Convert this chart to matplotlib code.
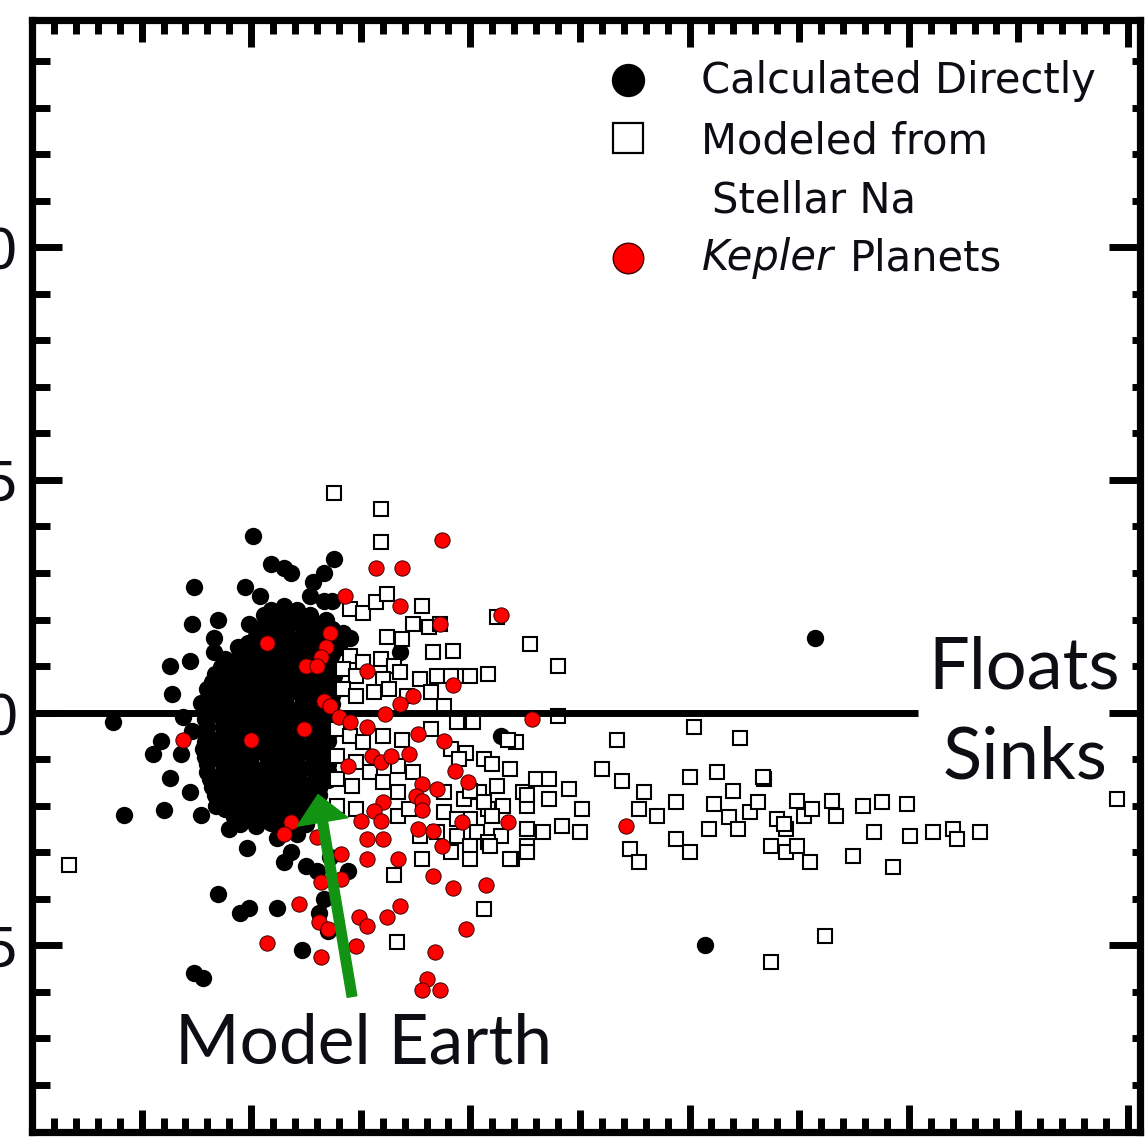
import matplotlib
matplotlib.use("Agg")
import matplotlib.pyplot as plt
from matplotlib.ticker import MultipleLocator, NullLocator

plt.rcParams['font.family'] = ['Lato', 'DejaVu Sans']

# ---------------------------------------------------------------- data
# Planets whose property was calculated directly (black discs)
calc_outer_x = [1.01, 1.09, 1.15, 1.18, 1.38, 1.33, 1.28, 0.74, 0.97, 1.04, 1.27, 1.33, 1.37, 1.15,
                0.73, 0.85, 0.99, 0.83, 1.09, 1.21, 1.25, 1.42, 1.45, 0.83, 0.94, 0.63, 0.72, 0.87, 0.94, 0.99,
                0.64, 0.77, 0.69, 0.37, 0.59, 0.55, 0.68, 0.73, 0.63, 0.72, 0.60, 0.42, 0.77, 0.84, 0.90, 1.01,
                0.98, 1.12, 1.18, 1.21, 1.25, 1.36, 1.15, 1.25, 1.30, 1.44, 1.33, 1.31, 1.35,
                0.85, 0.95, 0.99, 1.12, 1.23, 0.74, 0.78, 1.68, 2.14, 3.07, 3.57]
calc_outer_y = [0.38, 0.32, 0.31, 0.30, 0.33, 0.30, 0.28, 0.27, 0.27, 0.25, 0.25, 0.24, 0.24, 0.23,
                0.19, 0.20, 0.19, 0.16, 0.22, 0.22, 0.19, 0.17, 0.16, 0.13, 0.14, 0.10, 0.11, 0.07, 0.10, 0.11,
                0.04, 0.02, -0.01, -0.02, -0.06, -0.09, -0.09, -0.04, -0.14, -0.17, -0.21, -0.22, -0.22, -0.20, -0.25, -0.23,
                -0.29, -0.27, -0.30, -0.26, -0.24, -0.31, -0.32, -0.33, -0.34, -0.34, -0.40, -0.43, -0.47,
                -0.39, -0.43, -0.42, -0.42, -0.51, -0.56, -0.57, 0.13, -0.05, -0.50, 0.16]

# dense core of the directly calculated population
calc_core_x = [1.06, 1.13, 1.20, 1.27, 1.34,
               1.03, 1.10, 1.17, 1.24, 1.30, 1.37,
               0.985, 1.055, 1.12, 1.19, 1.26, 1.33, 1.40,
               0.88, 0.95, 1.02, 1.09, 1.15, 1.22, 1.29, 1.36,
               0.835, 0.90, 0.97, 1.04, 1.11, 1.18, 1.245, 1.31, 1.38,
               0.80, 0.87, 0.94, 1.01, 1.08, 1.145, 1.21, 1.28, 1.35,
               0.82, 0.89, 0.96, 1.03, 1.095, 1.16, 1.23, 1.30, 1.37,
               0.79, 0.86, 0.925, 0.995, 1.06, 1.13, 1.20, 1.27, 1.34, 1.40,
               0.80, 0.87, 0.935, 1.00, 1.07, 1.14, 1.21, 1.28, 1.35,
               0.78, 0.85, 0.92, 0.985, 1.055, 1.12, 1.19, 1.26, 1.33,
               0.80, 0.87, 0.935, 1.00, 1.07, 1.14, 1.21, 1.28, 1.35,
               0.81, 0.88, 0.95, 1.02, 1.09, 1.15, 1.22, 1.29, 1.35,
               0.835, 0.90, 0.97, 1.04, 1.11, 1.18, 1.245, 1.31,
               0.88, 0.95, 1.02, 1.09, 1.15, 1.22, 1.29,
               0.95, 1.02, 1.09, 1.15, 1.22]
calc_core_y = [0.21, 0.215, 0.205, 0.21, 0.20,
               0.18, 0.175, 0.185, 0.18, 0.175, 0.18,
               0.15, 0.145, 0.15, 0.155, 0.145, 0.15, 0.14,
               0.115, 0.12, 0.11, 0.115, 0.12, 0.11, 0.115, 0.11,
               0.082, 0.08, 0.085, 0.078, 0.082, 0.086, 0.08, 0.083, 0.078,
               0.05, 0.048, 0.052, 0.05, 0.046, 0.05, 0.054, 0.048, 0.05,
               0.018, 0.02, 0.016, 0.018, 0.022, 0.018, 0.015, 0.02, 0.018,
               -0.014, -0.01, -0.016, -0.012, -0.014, -0.018, -0.012, -0.014, -0.016, -0.012,
               -0.047, -0.05, -0.045, -0.048, -0.044, -0.047, -0.05, -0.046, -0.048,
               -0.079, -0.082, -0.078, -0.08, -0.076, -0.079, -0.082, -0.078, -0.08,
               -0.111, -0.108, -0.113, -0.11, -0.114, -0.111, -0.108, -0.112, -0.11,
               -0.143, -0.146, -0.141, -0.144, -0.14, -0.143, -0.146, -0.142, -0.144,
               -0.176, -0.173, -0.178, -0.175, -0.179, -0.176, -0.173, -0.177,
               -0.208, -0.205, -0.21, -0.207, -0.211, -0.208, -0.205,
               -0.24, -0.243, -0.238, -0.241, -0.239]

# further core members lying between the rows above
calc_fill_x = [1.07, 1.14, 1.21, 1.28, 1.34,
               1.02, 1.09, 1.16, 1.23, 1.30, 1.37,
               0.95, 1.02, 1.09, 1.16, 1.23, 1.30, 1.37,
               0.86, 0.93, 1.00, 1.07, 1.14, 1.21, 1.28, 1.35,
               0.82, 0.89, 0.96, 1.03, 1.10, 1.17, 1.24, 1.31, 1.37,
               0.81, 0.88, 0.95, 1.02, 1.09, 1.16, 1.23, 1.30, 1.37,
               0.80, 0.87, 0.94, 1.01, 1.08, 1.15, 1.22, 1.29, 1.36,
               0.80, 0.87, 0.94, 1.01, 1.08, 1.15, 1.22, 1.29, 1.36,
               0.79, 0.86, 0.93, 1.00, 1.07, 1.14, 1.21, 1.28, 1.35,
               0.79, 0.86, 0.93, 1.00, 1.07, 1.14, 1.21, 1.28, 1.35,
               0.80, 0.87, 0.94, 1.01, 1.08, 1.15, 1.22, 1.29, 1.35,
               0.82, 0.89, 0.96, 1.03, 1.10, 1.17, 1.24, 1.31,
               0.86, 0.93, 1.00, 1.07, 1.14, 1.21, 1.28,
               0.92, 0.99, 1.06, 1.13, 1.20, 1.26]
calc_fill_y = [0.195, 0.192, 0.197, 0.194, 0.19,
               0.165, 0.162, 0.168, 0.164, 0.16, 0.166,
               0.13, 0.133, 0.128, 0.131, 0.134, 0.129, 0.126,
               0.098, 0.1, 0.096, 0.099, 0.101, 0.097, 0.1, 0.095,
               0.066, 0.064, 0.068, 0.065, 0.063, 0.067, 0.066, 0.064, 0.062,
               0.034, 0.036, 0.032, 0.035, 0.033, 0.037, 0.034, 0.031, 0.035,
               0.002, 0.0, 0.004, 0.001, -0.002, 0.003, 0.0, 0.002, 0.004,
               -0.03, -0.032, -0.028, -0.031, -0.029, -0.033, -0.03, -0.028, -0.031,
               -0.063, -0.061, -0.065, -0.062, -0.064, -0.06, -0.063, -0.065, -0.062,
               -0.095, -0.097, -0.093, -0.096, -0.094, -0.098, -0.095, -0.093, -0.096,
               -0.127, -0.125, -0.129, -0.126, -0.128, -0.124, -0.127, -0.129, -0.126,
               -0.16, -0.158, -0.162, -0.159, -0.161, -0.157, -0.16, -0.162,
               -0.192, -0.19, -0.194, -0.191, -0.193, -0.189, -0.192,
               -0.224, -0.222, -0.226, -0.223, -0.225, -0.221]

calc_x = calc_outer_x + calc_core_x + calc_fill_x
calc_y = calc_outer_y + calc_core_y + calc_fill_y

# Planets modeled from stellar Na (open squares)
model_x = [1.38, 1.59, 1.59, 2.12, 2.27, 2.40, 2.40, 3.02, 3.23, 2.67,
           1.45, 1.51, 1.57, 1.78, 1.62, 1.74, 1.81, 1.83, 1.92, 1.62, 1.69, 1.86,
           1.45, 1.51, 1.59, 1.65, 1.42, 1.48, 1.60, 1.68, 1.77, 1.85, 1.94, 2.00, 2.08,
           1.42, 1.48, 1.56, 1.63, 1.71, 1.82, 1.88, 1.95, 2.01,
           1.39, 1.45, 1.51, 1.60, 1.69, 1.82, 1.91, 1.98, 2.06, 2.21,
           1.39, 1.48, 1.54, 1.67, 1.74, 1.39, 1.46, 1.60, 1.67, 1.88, 1.97, 2.04, 2.12, 2.24, 2.30,
           1.39, 1.48, 1.67, 1.72, 1.88, 2.00, 2.08, 2.15, 2.26,
           1.85, 1.94, 2.03, 2.14, 2.26, 2.33, 1.77, 2.00, 2.08, 2.19, 2.26,
           1.65, 1.78, 2.00, 2.06, 1.665,
           1.91, 1.94, 2.17, 1.95, 2.10, 2.18, 2.36, 2.45, 2.60, 2.69, 2.79, 3.00, 3.125, 3.20, 3.34, 3.49, 3.65,
           2.00, 2.06, 2.26, 2.36, 2.51, 2.77, 2.85, 2.94, 3.11, 3.18, 3.275, 3.40, 3.52, 3.67,
           1.94, 2.10, 2.42, 2.50, 2.94, 3.09, 3.22, 3.44, 2.73, 2.77, 3.00, 3.37, 3.55, 2.26, 2.09, 2.18, 1.91,
           3.335, 3.31, 3.56, 3.43, 3.79, 3.88, 3.99, 3.44, 3.49, 3.745, 3.84, 3.93, 4.005, 4.11, 4.20, 4.22, 4.325, 4.95,
           0.17, 3.37, 3.62]
model_y = [0.471, 0.437, 0.366, 0.205, 0.147, 0.100, -0.008, -0.032, -0.054, -0.058,
           0.222, 0.215, 0.237, 0.228, 0.254, 0.190, 0.183, 0.130, 0.132, 0.162, 0.158, 0.190,
           0.121, 0.108, 0.115, 0.100, 0.093, 0.078, 0.072, 0.087, 0.072, 0.078, 0.078, 0.078, 0.082,
           0.050, 0.035, 0.044, 0.050, 0.035, 0.044, 0.014, -0.014, -0.021,
           -0.036, -0.051, -0.064, -0.051, -0.058, -0.036, -0.079, -0.086, -0.100, -0.064,
           -0.094, -0.107, -0.128, -0.115, -0.128, -0.143, -0.158, -0.150, -0.171, -0.171, -0.186, -0.171, -0.158, -0.171, -0.143,
           -0.201, -0.208, -0.223, -0.208, -0.214, -0.229, -0.208, -0.201, -0.201,
           -0.257, -0.266, -0.257, -0.266, -0.251, -0.257, -0.266, -0.287, -0.278, -0.315, -0.287,
           -0.348, -0.315, -0.315, -0.423, -0.492,
           0.078, -0.021, -0.058, -0.100, -0.111, -0.122, -0.143, -0.165, -0.122, -0.148, -0.171, -0.139, -0.128, -0.169, -0.143, -0.191, -0.191,
           -0.169, -0.193, -0.176, -0.186, -0.208, -0.208, -0.223, -0.193, -0.197, -0.225, -0.214, -0.229, -0.223, -0.223,
           -0.229, -0.223, -0.244, -0.257, -0.272, -0.251, -0.251, -0.251, -0.294, -0.322, -0.300, -0.287, -0.320, -0.300, -0.287, -0.315, -0.300,
           -0.139, -0.193, -0.208, -0.240, -0.201, -0.193, -0.197, -0.300, -0.287, -0.309, -0.257, -0.331, -0.266, -0.257, -0.251, -0.272, -0.257, -0.186,
           -0.328, -0.535, -0.481]

# Kepler planets (red discs)
kepler_x = [1.87, 1.57, 1.69, 1.43, 1.68, 2.14, 1.86, 1.36, 1.07, 1.34,
            1.32, 1.25, 1.30, 1.53, 1.92, 1.74, 1.33, 1.36, 1.68, 1.40,
            1.45, 1.53, 1.61, 1.24, 1.00, 0.69, 2.28, 1.76, 1.88, 1.55,
            1.59, 1.64, 1.72, 1.44, 1.93, 1.99, 1.78, 1.85, 1.75, 1.78,
            1.78, 1.60, 1.56, 1.96, 2.17, 1.18, 1.15, 1.30, 1.50, 1.59,
            1.76, 1.83, 1.53, 1.60, 1.87, 1.41, 1.53, 1.67, 1.32, 1.41,
            1.83, 1.92, 2.07, 1.22, 1.68, 1.31, 1.35, 1.49, 1.53, 1.62,
            1.07, 1.48, 1.32, 1.98, 1.84, 1.80, 1.78, 1.86, 2.71]
kepler_y = [0.37, 0.31, 0.31, 0.25, 0.23, 0.21, 0.19, 0.17, 0.15, 0.14,
            0.12, 0.10, 0.10, 0.09, 0.06, 0.035, 0.024, 0.014, 0.018, -0.01,
            -0.02, -0.03, -0.004, -0.036, -0.058, -0.058, -0.014, -0.047, -0.062, -0.094,
            -0.107, -0.094, -0.09, -0.115, -0.126, -0.15, -0.154, -0.165, -0.18, -0.19,
            -0.21, -0.193, -0.212, -0.235, -0.235, -0.235, -0.261, -0.268, -0.233, -0.233,
            -0.251, -0.255, -0.272, -0.272, -0.287, -0.304, -0.315, -0.315, -0.363, -0.358,
            -0.352, -0.376, -0.371, -0.412, -0.416, -0.449, -0.466, -0.44, -0.459, -0.44,
            -0.494, -0.502, -0.526, -0.466, -0.515, -0.573, -0.595, -0.595, -0.244]

# Model Earth reference point and the start of its pointer
earth_x, earth_y = 1.305, -0.176
earth_tail_x, earth_tail_y = 1.46, -0.61

# float / sink boundary
boundary_y = 0.0
boundary_end_x = 4.04

y_tick_values = [-0.5, 0.0, 0.5, 1.0]
y_tick_labels = ['-0.5', '0.0', '0.5', '1.0']
x_half_ticks = [0.5, 1.5, 2.5, 3.5, 4.5]

ink = '#0d0d14'
green = '#129312'
plot_font = ['DejaVu Sans']

# ---------------------------------------------------------------- figure
W, H = 1148, 1147
fig = plt.figure(figsize=(W / 100, H / 100), dpi=100)
left_px, right_px, top_px, bottom_px = 32, 1140, 20, 1131.5
ax = fig.add_axes([left_px / W, (H - bottom_px) / H,
                   (right_px - left_px) / W, (bottom_px - top_px) / H])
ax.set_xlim(0, 5.055)
ax.set_ylim(-0.9, 1.488)

ax.plot(calc_x, calc_y, 'o', ms=12.5, mfc='black', mec='black', mew=0, zorder=2)
ax.plot(model_x, model_y, 's', ms=10, mfc='white', mec='black', mew=1.5, zorder=3)
ax.plot([0, boundary_end_x], [boundary_y, boundary_y], color='black', lw=5,
        solid_capstyle='butt', zorder=3.5)
ax.plot(kepler_x, kepler_y, 'o', ms=11, mfc='#ff0000', mec='#3a0000', mew=0.7, zorder=4)

# pointer to the model Earth
ax.annotate('', xy=(earth_x, earth_y), xytext=(earth_tail_x, earth_tail_y),
            arrowprops=dict(facecolor=green, edgecolor=green, width=7, headwidth=37,
                            headlength=20, shrink=0), zorder=5)

# ---------------------------------------------------------------- axes styling
for s in ax.spines.values():
    s.set_linewidth(5.2)

ax.xaxis.set_major_locator(MultipleLocator(1))
ax.xaxis.set_minor_locator(MultipleLocator(0.1))
ax.tick_params(axis='x', which='major', direction='in', length=19.5, width=5,
               top=True, bottom=True, labelbottom=False, labeltop=False)
ax.tick_params(axis='x', which='minor', direction='in', length=10, width=5,
               top=True, bottom=True)

ax.set_yticks(y_tick_values)
ax.set_yticklabels(y_tick_labels, family=plot_font)
ax.yaxis.set_minor_locator(MultipleLocator(0.1))
ax.tick_params(axis='y', which='major', direction='in', length=21.5, width=5,
               left=True, right=False, labelsize=40, pad=9, labelcolor=ink)
ax.tick_params(axis='y', which='minor', direction='in', length=13, width=5,
               left=True, right=False)

for loc in ('top', 'bottom'):
    sec = ax.secondary_xaxis(loc)
    sec.set_xticks(x_half_ticks)
    sec.xaxis.set_minor_locator(NullLocator())
    sec.tick_params(direction='in', length=16, width=5,
                    labelbottom=False, labeltop=False)
    for s in sec.spines.values():
        s.set_visible(False)

secy = ax.secondary_yaxis('right')
secy.set_yticks(y_tick_values)
secy.yaxis.set_minor_locator(MultipleLocator(0.1))
secy.tick_params(which='major', direction='in', length=22, width=5, labelright=False)
secy.tick_params(which='minor', direction='in', length=6, width=5, labelright=False)
for s in secy.spines.values():
    s.set_visible(False)

# ---------------------------------------------------------------- legend
lx = 0.538
ax.plot([lx], [0.946], 'o', ms=24, mfc='black', mec='black', mew=0,
        transform=ax.transAxes, clip_on=False, zorder=6)
ax.plot([lx], [0.894], 's', ms=22, mfc='white', mec='black', mew=1.6,
        transform=ax.transAxes, clip_on=False, zorder=6)
ax.plot([lx], [0.786], 'o', ms=22, mfc='#ff0000', mec='#3a0000', mew=1,
        transform=ax.transAxes, clip_on=False, zorder=6)

leg = dict(transform=ax.transAxes, fontsize=30, color=ink, va='baseline',
           ha='left', family=plot_font)
ax.text(0.604, 0.934, 'Calculated Directly', **leg)
ax.text(0.604, 0.880, 'Modeled from', **leg)
ax.text(0.614, 0.827, 'Stellar Na', **leg)
ax.text(0.605, 0.775, 'Kepler', fontstyle='italic', **leg)
ax.text(0.738, 0.775, 'Planets', **leg)

# ---------------------------------------------------------------- annotations
ax.text(0.809, 0.399, 'Floats', transform=ax.transAxes, fontsize=52,
        color=ink, va='baseline', ha='left')
ax.text(0.822, 0.318, 'Sinks', transform=ax.transAxes, fontsize=52,
        color=ink, va='baseline', ha='left')
ax.text(0.129, 0.0616, 'Model Earth', transform=ax.transAxes, fontsize=50,
        color=ink, va='baseline', ha='left', zorder=6)

fig.savefig('out.png', dpi=100, facecolor='white')
